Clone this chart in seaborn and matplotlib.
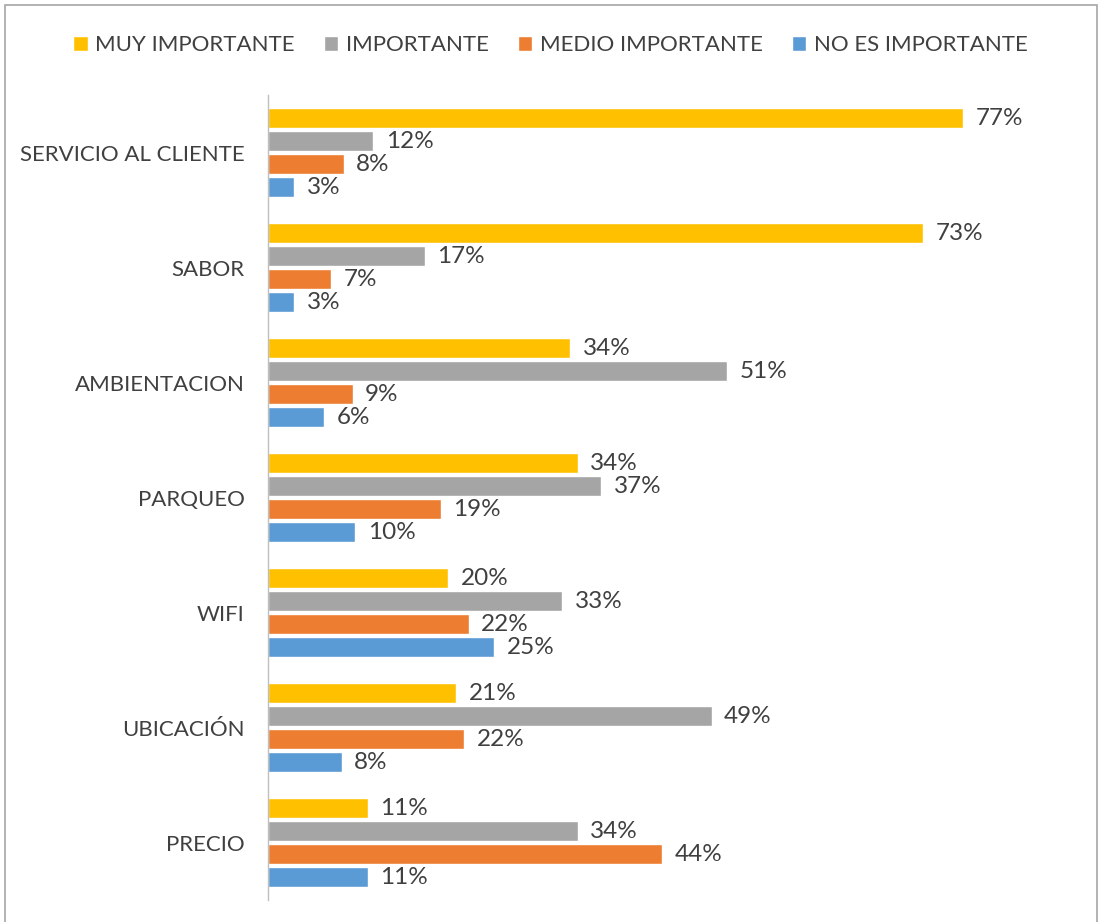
import matplotlib
matplotlib.use("Agg")
import matplotlib.pyplot as plt
import seaborn as sns
import pandas as pd
from matplotlib.patches import Rectangle

categories = ["SERVICIO AL CLIENTE", "SABOR", "AMBIENTACION", "PARQUEO", "WIFI", "UBICACIÓN", "PRECIO"]
series = ["MUY IMPORTANTE", "IMPORTANTE", "MEDIO IMPORTANTE", "NO ES IMPORTANTE"]
muy_importante = [77.2, 72.8, 33.6, 34.4, 20.0, 20.9, 11.1]
importante = [11.7, 17.4, 51.0, 37.0, 32.7, 49.3, 34.4]
medio_importante = [8.4, 7.0, 9.4, 19.2, 22.3, 21.8, 43.8]
no_es_importante = [2.9, 2.9, 6.2, 9.7, 25.1, 8.2, 11.1]
colors = ["#FFC000", "#A5A5A5", "#ED7D31", "#5B9BD5"]

rows = []
for s, vals in zip(series, [muy_importante, importante, medio_importante, no_es_importante]):
    for c, v in zip(categories, vals):
        rows.append({"cat": c, "serie": s, "valor": v})
df = pd.DataFrame(rows)

sns.set_theme(style="white")
plt.rcParams["font.family"] = ["Lato", "DejaVu Sans"]
txt = "#404040"

fig = plt.figure(figsize=(11.01, 9.22), dpi=100)
ax = fig.add_axes([268/1101, 1 - 900/922, 810/1101, 805/922])

sns.barplot(data=df, y="cat", x="valor", hue="serie", order=categories,
            hue_order=series, palette=colors, orient="h", width=0.8, gap=0.12,
            ax=ax, legend=True, saturation=1)

for cont in ax.containers:
    ax.bar_label(cont, labels=[f"{v:.0f}%" for v in cont.datavalues],
                 padding=9, fontsize=17.5, color=txt)

ax.set_xlim(0, 90)
ax.set_ylim(6.5, -0.5)
ax.set_xlabel("")
ax.set_ylabel("")
ax.set_xticks([])
for side in ["top", "right", "bottom"]:
    ax.spines[side].set_visible(False)
ax.spines["left"].set_color("#BFBFBF")
ax.spines["left"].set_linewidth(1)
ax.tick_params(axis="y", length=0, pad=17, labelsize=16, labelcolor=txt)

handles, labels = ax.get_legend_handles_labels()
ax.get_legend().remove()
fig.legend(handles, labels, loc="center", bbox_to_anchor=(0.5, 1 - 45/922),
           ncol=4, frameon=False, fontsize=16, labelcolor=txt,
           handlelength=0.65, handleheight=0.65, handletextpad=0.35,
           columnspacing=1.3)

fig.patches.append(Rectangle((5/1101, -0.01), 1092/1101, 1 - 5/922 + 0.01,
                             transform=fig.transFigure, fill=False,
                             edgecolor="#A6A6A6", linewidth=1.2))

fig.savefig("out.png", dpi=100)
